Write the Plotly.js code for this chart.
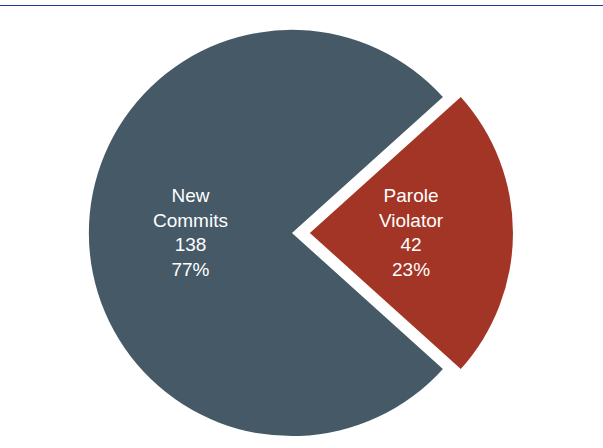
<!DOCTYPE html>
<html>
<head>
<meta charset="utf-8">
<script src="https://cdn.plot.ly/plotly-3.0.1.min.js"></script>
<style>
html, body { margin: 0; padding: 0; overflow: hidden; background: #ffffff; }
#chart { width: 603px; height: 454px; }
</style>
</head>
<body>
<div id="chart"></div>
<script>
var labels = ["Parole<br>Violator", "New<br>Commits"];
var values = [42, 138];
var colors = ["#a33526", "#455967"];
var pulls = [0.088, 0];

var W = 603, H = 454;
var domX = [0.1177, 0.8507], domY = [0, 0.9736];
var rotation = 48;
var labelFrac = 0.5;

var trace = {
  type: "pie",
  labels: labels,
  values: values,
  sort: false,
  direction: "clockwise",
  rotation: rotation,
  pull: pulls,
  marker: { colors: colors, line: { width: 0 } },
  textinfo: "none",
  hoverinfo: "none",
  showlegend: false,
  domain: { x: domX, y: domY }
};

// label positions derived from the pie geometry and the values
var boxW = W * (domX[1] - domX[0]), boxH = H * (domY[1] - domY[0]);
var maxPull = Math.max.apply(null, pulls);
var r = Math.min(boxW, boxH) / (2 + 2 * maxPull);
var cx = W * (domX[0] + domX[1]) / 2;
var cy = H * (domY[0] + domY[1]) / 2; // measured from bottom
var total = values.reduce(function (a, b) { return a + b; }, 0);
var annotations = [];
var cum = 0;
for (var i = 0; i < values.length; i++) {
  var theta = (rotation + 360 * (cum + values[i] / 2) / total) * Math.PI / 180;
  cum += values[i];
  var rr = r * (labelFrac + pulls[i]);
  var px = cx + rr * Math.sin(theta);
  var py = cy + rr * Math.cos(theta);
  annotations.push({
    xref: "paper", yref: "paper",
    x: px / W, y: py / H,
    xanchor: "center", yanchor: "middle",
    showarrow: false,
    align: "center",
    text: labels[i] + "<br>" + values[i] + "<br>" + Math.round(values[i] / total * 100) + "%",
    font: { family: "Liberation Sans, Arial, sans-serif", size: 19, color: "#ffffff" }
  });
}

var lineY = 1 - 5.5 / H;

var layout = {
  width: W,
  height: H,
  margin: { l: 0, r: 0, t: 0, b: 0 },
  paper_bgcolor: "#ffffff",
  plot_bgcolor: "#ffffff",
  showlegend: false,
  annotations: annotations,
  shapes: [{
    type: "line", xref: "paper", yref: "paper",
    x0: 0, x1: 1, y0: lineY, y1: lineY,
    line: { color: "#213a96", width: 1 }
  }]
};

Plotly.newPlot("chart", [trace], layout, { staticPlot: true, displayModeBar: false });
</script>
</body>
</html>
